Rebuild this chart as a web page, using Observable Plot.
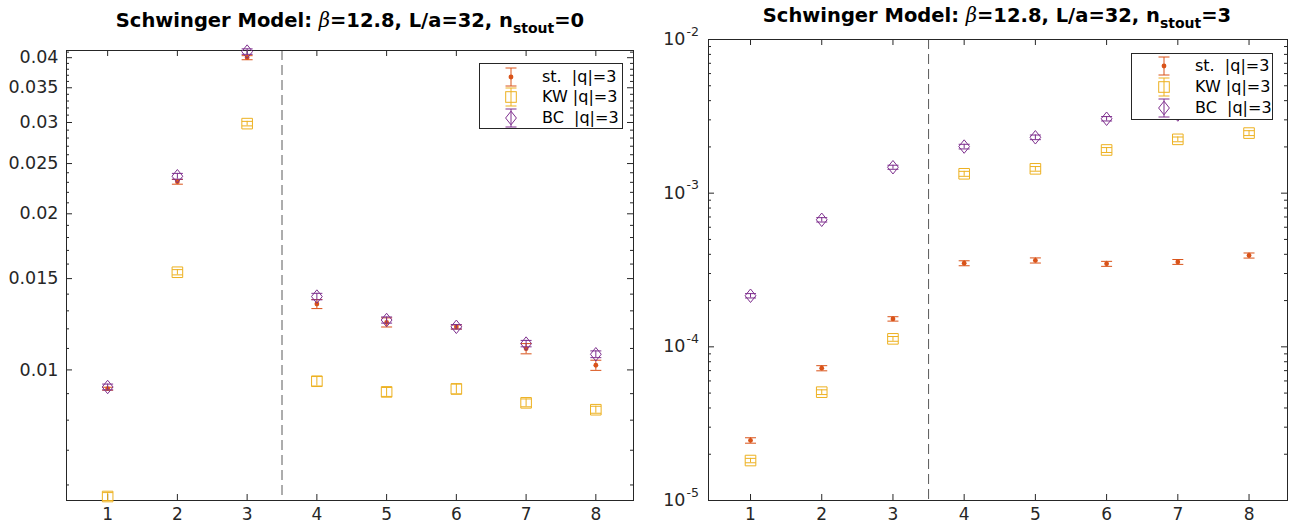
<!DOCTYPE html>
<html><head><meta charset="utf-8">
<script src="https://cdn.jsdelivr.net/npm/d3@7"></script>
<script src="https://cdn.jsdelivr.net/npm/@observablehq/plot@0.6"></script>
<style>
body{margin:0;background:#fff;width:1302px;height:529px;overflow:hidden;position:relative;font-family:"DejaVu Sans",sans-serif;}
#c{position:absolute;left:0;top:0;width:1302px;height:529px;}
.title{position:absolute;font-weight:bold;font-size:19.5px;white-space:nowrap;transform:translate(-50%,-50%);color:#000;line-height:1;}
.title .b{font-family:"DejaVu Serif",serif;font-style:italic;font-weight:normal;}
.title sub{font-size:14px;vertical-align:-6px;}
.legend{position:absolute;background:#fff;border:1px solid #262626;box-sizing:border-box;}
.legend .row{position:absolute;left:0;height:20px;font-size:16px;color:#000;white-space:pre;}
.legend svg{position:absolute;overflow:visible;}
</style></head>
<body><div id="c"></div>
<script>
// ---------- data ----------
const xTicks = [1, 2, 3, 4, 5, 6, 7, 8];
const seriesNames = ["st.  |q|=3", "KW |q|=3", "BC  |q|=3"];
const seriesColors = ["#D95319", "#EDB120", "#7E2F8E"];

// n_stout = 0
const st0    = [0.00920, 0.02305, 0.0400, 0.01340, 0.01235, 0.01210, 0.01099, 0.01021];
const st0Err = [0.00006, 0.00024, 0.00036, 0.00027, 0.00025, 0.00011, 0.00025, 0.00023];
const kw0    = [0.00570, 0.01543, 0.02985, 0.00951, 0.00907, 0.00919, 0.00864, 0.00838];
const kw0Err = [0.00010, 0.00018, 0.00030, 0.00020, 0.00018, 0.00020, 0.00015, 0.00013];
const bc0    = [0.00927, 0.02363, 0.0411, 0.01385, 0.01248, 0.01211, 0.01124, 0.01072];
const bc0Err = [0.00012, 0.00030, 0.00050, 0.00020, 0.00017, 0.00012, 0.00016, 0.00016];
const yTicks0 = [0.01, 0.015, 0.02, 0.025, 0.03, 0.035, 0.04];
const yTickLabels0 = ["0.01", "0.015", "0.02", "0.025", "0.03", "0.035", "0.04"];
const yMinor0 = [0.006,0.007,0.008,0.009,0.011,0.012,0.013,0.014,0.016,0.017,0.018,0.019,0.021,0.022,0.023,0.024,0.026,0.027,0.028,0.029,0.031,0.032,0.033,0.034,0.036,0.037,0.038,0.039,0.041];
const yDomain0 = [0.0056, 0.0413];

// n_stout = 3
const st3    = [2.46e-5, 7.26e-5, 1.52e-4, 3.50e-4, 3.65e-4, 3.47e-4, 3.57e-4, 3.93e-4];
const st3Err = [1.0e-6, 2.8e-6, 5.0e-6, 1.3e-5, 1.4e-5, 1.3e-5, 1.3e-5, 1.5e-5];
const kw3    = [1.82e-5, 5.07e-5, 1.127e-4, 1.337e-3, 1.44e-3, 1.91e-3, 2.24e-3, 2.46e-3];
const kw3Err = [6e-7, 1.8e-6, 4e-6, 5e-5, 5e-5, 7e-5, 8e-5, 9e-5];
const bc3    = [2.15e-4, 6.71e-4, 1.475e-3, 2.01e-3, 2.31e-3, 3.05e-3, 3.25e-3, 3.45e-3];
const bc3Err = [7e-6, 2.2e-5, 4.5e-5, 7e-5, 8e-5, 1.0e-4, 1.1e-4, 1.2e-4];
const yTicks3 = [1e-5, 1e-4, 1e-3, 1e-2];
const yTickExp3 = ["-5", "-4", "-3", "-2"];
const yMinor3 = [2e-5,3e-5,4e-5,5e-5,6e-5,7e-5,8e-5,9e-5,2e-4,3e-4,4e-4,5e-4,6e-4,7e-4,8e-4,9e-4,2e-3,3e-3,4e-3,5e-3,6e-3,7e-3,8e-3,9e-3];
const yDomain3 = [1e-5, 1e-2];

const xDomain = [0.41, 8.54];
const dividerX = [3.5];

// ---------- symbols ----------
const rOf = s => Math.sqrt(s / Math.PI);
const hbar = {draw(c, s){ const r = rOf(s); c.moveTo(-r, 0); c.lineTo(r, 0); }};
const square = {draw(c, s){ const r = rOf(s); c.moveTo(-r,-r); c.lineTo(r,-r); c.lineTo(r,r); c.lineTo(-r,r); c.closePath(); }};
const diamond = {draw(c, s){ const r = rOf(s); const h = r*1.25; c.moveTo(0,-h); c.lineTo(r,0); c.lineTo(0,h); c.lineTo(-r,0); c.closePath(); }};

const axisColor = "#262626";

function panel(cfg) {
  const {width, height, mL, mR, mT, mB, yDomain, data} = cfg;
  const fw = width - mL - mR, fh = height - mT - mB;
  const marks = [];
  marks.push(Plot.ruleX(dividerX, {x: d => d, stroke: "#5a5a5a", strokeWidth: 1, strokeDasharray: "10,5"}));
  marks.push(Plot.tickX(xTicks, {x: d => d, stroke: axisColor, insetTop: fh - 6}));
  marks.push(Plot.tickX(xTicks, {x: d => d, stroke: axisColor, insetBottom: fh - 6}));
  marks.push(Plot.tickY(cfg.yTicks, {y: d => d, stroke: axisColor, insetRight: fw - 6}));
  marks.push(Plot.tickY(cfg.yTicks, {y: d => d, stroke: axisColor, insetLeft: fw - 6}));
  marks.push(Plot.tickY(cfg.yMinor, {y: d => d, stroke: axisColor, insetRight: fw - 3}));
  marks.push(Plot.tickY(cfg.yMinor, {y: d => d, stroke: axisColor, insetLeft: fw - 3}));
  marks.push(Plot.frame({stroke: axisColor, strokeWidth: 1}));
  marks.push(Plot.text(xTicks, {x: d => d, frameAnchor: "bottom", dy: 19, text: d => String(d), fontSize: 17, fill: axisColor}));
  if (cfg.yLabels) {
    marks.push(Plot.text(cfg.yTicks, {y: d => d, frameAnchor: "left", textAnchor: "end", dx: -8, text: (d, i) => cfg.yLabels[i], fontSize: 17.5, fill: axisColor}));
  } else {
    marks.push(Plot.text(cfg.yTicks, {y: d => d, frameAnchor: "left", textAnchor: "end", dx: -23, text: () => "10", fontSize: 17.5, fill: axisColor}));
    marks.push(Plot.text(cfg.yTicks, {y: d => d, frameAnchor: "left", textAnchor: "start", dx: -22, dy: -8, text: (d, i) => cfg.yExp[i], fontSize: 12.5, fill: axisColor}));
  }
  const syms = [null, square, diamond];
  const symR = [2.4, 5.3, 5.4];
  const capR = [5.5, 5.3, 5.5];
  data.forEach((s, k) => {
    const rows = xTicks.map((x, i) => ({x, y: s.v[i], lo: s.v[i] - s.e[i], hi: s.v[i] + s.e[i]}));
    const col = seriesColors[k];
    marks.push(Plot.ruleX(rows, {x: "x", y1: "lo", y2: "hi", stroke: col, strokeWidth: 1}));
    marks.push(Plot.dot(rows, {x: "x", y: "lo", symbol: hbar, r: capR[k], stroke: col, fill: "none", strokeWidth: 1}));
    marks.push(Plot.dot(rows, {x: "x", y: "hi", symbol: hbar, r: capR[k], stroke: col, fill: "none", strokeWidth: 1}));
    if (k === 0) {
      marks.push(Plot.dot(rows, {x: "x", y: "y", r: symR[k], fill: col, stroke: "none"}));
    } else {
      marks.push(Plot.dot(rows, {x: "x", y: "y", symbol: syms[k], r: symR[k], stroke: col, fill: "none", strokeWidth: 1}));
    }
  });
  const svg = Plot.plot({
    width, height, marginLeft: mL, marginRight: mR, marginTop: mT, marginBottom: mB,
    x: {type: "linear", domain: xDomain, axis: null},
    y: {type: "log", domain: yDomain, axis: null},
    style: {background: "transparent", overflow: "visible", fontFamily: "DejaVu Sans, sans-serif"},
    marks
  });
  svg.style.position = "absolute";
  svg.style.left = cfg.left + "px";
  svg.style.top = "0px";
  return svg;
}

const c = document.getElementById("c");
c.appendChild(panel({left: 0, width: 650, height: 529, mL: 66, mR: 17, mT: 50, mB: 29,
  yDomain: yDomain0, yTicks: yTicks0, yLabels: yTickLabels0, yMinor: yMinor0,
  data: [{v: st0, e: st0Err}, {v: kw0, e: kw0Err}, {v: bc0, e: bc0Err}]}));
c.appendChild(panel({left: 650, width: 652, height: 529, mL: 58, mR: 15, mT: 39, mB: 29,
  yDomain: yDomain3, yTicks: yTicks3, yExp: yTickExp3, yMinor: yMinor3,
  data: [{v: st3, e: st3Err}, {v: kw3, e: kw3Err}, {v: bc3, e: bc3Err}]}));

function title(cx, cy, n) {
  const d = document.createElement("div");
  d.className = "title";
  d.style.left = cx + "px"; d.style.top = cy + "px";
  d.innerHTML = 'Schwinger Model: <span class="b">β</span>=12.8, L/a=32, n<sub>stout</sub>=' + n;
  c.appendChild(d);
}
title(350, 23, "0");
title(997, 18, "3");

function legend(x, y, w, h, rowYs, iconX, textX) {
  const L = document.createElement("div");
  L.className = "legend";
  Object.assign(L.style, {left: x + "px", top: y + "px", width: w + "px", height: h + "px"});
  seriesNames.forEach((name, k) => {
    const col = seriesColors[k];
    const cy = rowYs[k] - y;
    const ns = "http://www.w3.org/2000/svg";
    const s = document.createElementNS(ns, "svg");
    s.setAttribute("width", 20); s.setAttribute("height", 24);
    s.style.left = (iconX - x - 10) + "px"; s.style.top = (cy - 12) + "px";
    let inner = `<line x1="10" x2="10" y1="3" y2="21" stroke="${col}"/>` +
      `<line x1="4.5" x2="15.5" y1="3" y2="3" stroke="${col}"/><line x1="4.5" x2="15.5" y1="21" y2="21" stroke="${col}"/>`;
    if (k === 0) inner += `<circle cx="10" cy="12" r="2.4" fill="${col}"/>`;
    if (k === 1) inner += `<rect x="4.7" y="6.7" width="10.6" height="10.6" fill="none" stroke="${col}"/>`;
    if (k === 2) inner += `<path d="M10,5.2L15.4,12L10,18.8L4.6,12Z" fill="none" stroke="${col}"/>`;
    s.innerHTML = inner;
    L.appendChild(s);
    const t = document.createElement("div");
    t.className = "row";
    t.textContent = name;
    Object.assign(t.style, {left: (textX - x) + "px", top: (cy - 10) + "px", lineHeight: "20px"});
    L.appendChild(t);
  });
  c.appendChild(L);
}
legend(479, 63, 144, 66, [76, 96, 117], 510, 541);
legend(1131, 53, 142, 67, [65, 86, 107], 1163, 1194);
</script></body></html>
